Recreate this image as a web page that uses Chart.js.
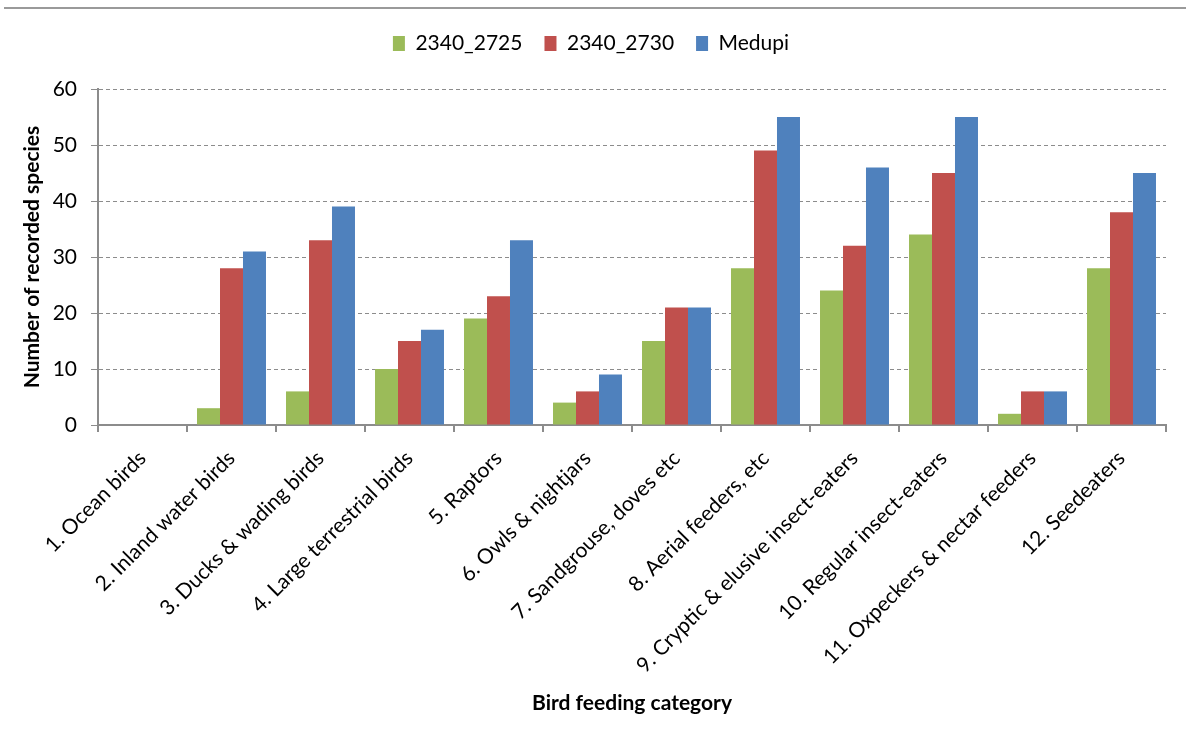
<!DOCTYPE html>
<html><head><meta charset="utf-8">
<script src="https://cdn.jsdelivr.net/npm/chart.js@4/dist/chart.umd.min.js"></script>
<style>html,body{margin:0;padding:0;background:#fff}#wrap{width:1186px;height:740px;position:relative}</style>
</head><body><div id="wrap"><canvas id="c" width="1186" height="740"></canvas></div>
<script>
const categories = ["1. Ocean birds","2. Inland water birds","3. Ducks & wading birds","4. Large terrestrial birds","5. Raptors","6. Owls & nightjars","7. Sandgrouse, doves etc","8. Aerial feeders, etc","9. Cryptic & elusive insect-eaters","10. Regular insect-eaters","11. Oxpeckers & nectar feeders","12. Seedeaters"];
const s2725 = [0,3,6,10,19,4,15,28,24,34,2,28];
const s2730 = [0,28,33,15,23,6,21,49,32,45,6,38];
const medupi = [0,31,39,17,33,9,21,55,46,55,6,45];
const yTicks = [0,10,20,30,40,50,60];

const FONT = "Lato, 'Open Sans', sans-serif";
const topLine = {
  id:'topLine',
  beforeDraw(chart){const c=chart.ctx;c.save();c.strokeStyle='#9a9a9a';c.lineWidth=2;c.beginPath();c.moveTo(4,8);c.lineTo(1186,8);c.stroke();c.restore();}
};
const legendSpace = {
  id:'legendSpace',
  beforeInit(chart){
    const orig = chart.legend.fit;
    chart.legend.fit = function(){ orig.bind(chart.legend)(); this.height += 25; };
  }
};
new Chart(document.getElementById('c'),{
  type:'bar',
  data:{labels:categories,datasets:[
    {label:'2340_2725',data:s2725,backgroundColor:'#9BBB59'},
    {label:'2340_2730',data:s2730,backgroundColor:'#C0504D'},
    {label:'Medupi',data:medupi,backgroundColor:'#4F81BD'}
  ]},
  options:{
    responsive:false,animation:false,
    categoryPercentage:0.775,barPercentage:1,
    layout:{padding:{left:16,right:20,top:11,bottom:20}},
    plugins:{
      legend:{position:'top',labels:{font:{family:FONT,size:21},color:'#000',boxWidth:12,boxHeight:15,padding:22},},
      tooltip:{enabled:false}
    },
    scales:{
      x:{
        afterFit(scale){ scale.height = 740 - 20 - 425; },
        grid:{display:true,drawOnChartArea:false,drawTicks:true,tickLength:7,color:'#8c8c8c',lineWidth:2,offset:true},
        border:{color:'#8c8c8c',width:2},
        ticks:{font:{family:FONT,size:21},color:'#000',maxRotation:45,minRotation:45,padding:14,autoSkip:false},
        title:{display:true,text:'Bird feeding category',font:{family:FONT,size:21,weight:'bold'},color:'#000',padding:{top:10,bottom:4}}
      },
      y:{
        min:0,max:60,
        afterFit(scale){ scale.width = 98 - 16; },
        afterBuildTicks(axis){axis.ticks=yTicks.map(v=>({value:v}));},
        grid:{color:'#8c8c8c',lineWidth:1,tickLength:7,tickBorderDash:[],tickColor:'#8c8c8c'},
        border:{color:'#8c8c8c',width:2,dash:[4,3]},
        ticks:{font:{family:FONT,size:21},color:'#000',padding:14},
        title:{display:true,text:'Number of recorded species',font:{family:FONT,size:21,weight:'bold'},color:'#000',padding:{top:4,bottom:0}}
      }
    }
  },
  plugins:[topLine,legendSpace]
});
</script></body></html>
